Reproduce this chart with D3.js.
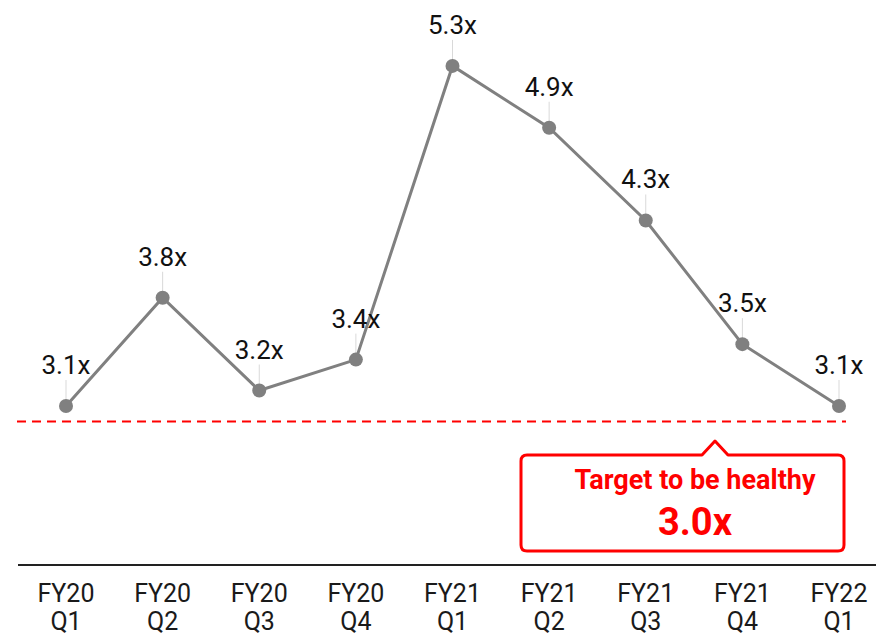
<!DOCTYPE html>
<html>
<head>
<meta charset="utf-8">
<script src="https://cdn.jsdelivr.net/npm/d3@7"></script>
<style>
  html, body { margin: 0; padding: 0; background: #fff; }
  svg { display: block; font-family: Roboto, "Noto Sans", sans-serif; }
</style>
</head>
<body>
<svg id="chart" width="876" height="637"></svg>
<script>
// Quarterly coverage multiple
const fiscalYears = ["FY20", "FY20", "FY20", "FY20", "FY21", "FY21", "FY21", "FY21", "FY22"];
const quarters    = ["Q1", "Q2", "Q3", "Q4", "Q1", "Q2", "Q3", "Q4", "Q1"];
const ratios      = [3.1, 3.8, 3.2, 3.4, 5.3, 4.9, 4.3, 3.5, 3.1];
const targetRatio = 3.0;
const targetText  = "Target to be healthy";

const categories = fiscalYears.map((fy, i) => fy + " " + quarters[i]);
const data = categories.map((c, i) => ({ key: c, fy: fiscalYears[i], q: quarters[i], v: ratios[i] }));

const svg = d3.select("#chart");
const W = 876, H = 637;
const axisY = 565;

const x = d3.scalePoint().domain(categories).range([66, 839]);
const y = d3.scaleLinear().domain([2, 5.5]).range([576, 35]);
const fmt = v => d3.format(".1f")(v) + "x";

// baseline
svg.append("line")
  .attr("x1", 18).attr("x2", W)
  .attr("y1", axisY).attr("y2", axisY)
  .attr("stroke", "#222").attr("stroke-width", 2);

// category labels (two lines)
const tick = svg.append("g").selectAll("text").data(data).join("text")
  .attr("x", d => x(d.key))
  .attr("text-anchor", "middle")
  .attr("font-size", 25)
  .attr("fill", "#1a1a1a");
tick.append("tspan").attr("x", d => x(d.key)).attr("y", 602).text(d => d.fy);
tick.append("tspan").attr("x", d => x(d.key)).attr("y", 630).text(d => d.q);

// target line
const ty = y(targetRatio);
svg.append("line")
  .attr("x1", 17).attr("x2", 846)
  .attr("y1", ty).attr("y2", ty)
  .attr("stroke", "#ff0000").attr("stroke-width", 2)
  .attr("stroke-dasharray", "9,6");

// target callout
const box = { x0: 521, x1: 844, top: 455, bottom: 551, r: 6, tip: 715 };
const tipY = box.top - 14;
const p = d3.path();
p.moveTo(box.x0 + box.r, box.top);
p.lineTo(box.tip - 13, box.top);
p.lineTo(box.tip, tipY);
p.lineTo(box.tip + 13, box.top);
p.lineTo(box.x1 - box.r, box.top);
p.quadraticCurveTo(box.x1, box.top, box.x1, box.top + box.r);
p.lineTo(box.x1, box.bottom - box.r);
p.quadraticCurveTo(box.x1, box.bottom, box.x1 - box.r, box.bottom);
p.lineTo(box.x0 + box.r, box.bottom);
p.quadraticCurveTo(box.x0, box.bottom, box.x0, box.bottom - box.r);
p.lineTo(box.x0, box.top + box.r);
p.quadraticCurveTo(box.x0, box.top, box.x0 + box.r, box.top);
p.closePath();
svg.append("path").attr("d", p.toString())
  .attr("fill", "#fff").attr("stroke", "#ff0000").attr("stroke-width", 3)
  .attr("stroke-linejoin", "round");
svg.append("text")
  .attr("x", 695).attr("y", 489)
  .attr("text-anchor", "middle").attr("font-size", 27).attr("font-weight", "bold")
  .attr("fill", "#ff0000").text(targetText);
svg.append("text")
  .attr("x", 695).attr("y", 535)
  .attr("text-anchor", "middle").attr("font-size", 38).attr("font-weight", "bold")
  .attr("fill", "#ff0000").text(fmt(targetRatio));

// leader lines from labels to points
svg.append("g").selectAll("line").data(data).join("line")
  .attr("x1", d => x(d.key)).attr("x2", d => x(d.key))
  .attr("y1", d => y(d.v) - 26).attr("y2", d => y(d.v))
  .attr("stroke", "#d9d9d9").attr("stroke-width", 1);

// series line
svg.append("path").datum(data)
  .attr("d", d3.line().x(d => x(d.key)).y(d => y(d.v)))
  .attr("fill", "none").attr("stroke", "#808080").attr("stroke-width", 3);

// points
svg.append("g").selectAll("circle").data(data).join("circle")
  .attr("cx", d => x(d.key)).attr("cy", d => y(d.v)).attr("r", 7)
  .attr("fill", "#808080");

// value labels
svg.append("g").selectAll("text").data(data).join("text")
  .attr("x", d => x(d.key)).attr("y", d => y(d.v) - 32)
  .attr("text-anchor", "middle").attr("font-size", 26)
  .attr("fill", "#111").text(d => fmt(d.v));
</script>
</body>
</html>
